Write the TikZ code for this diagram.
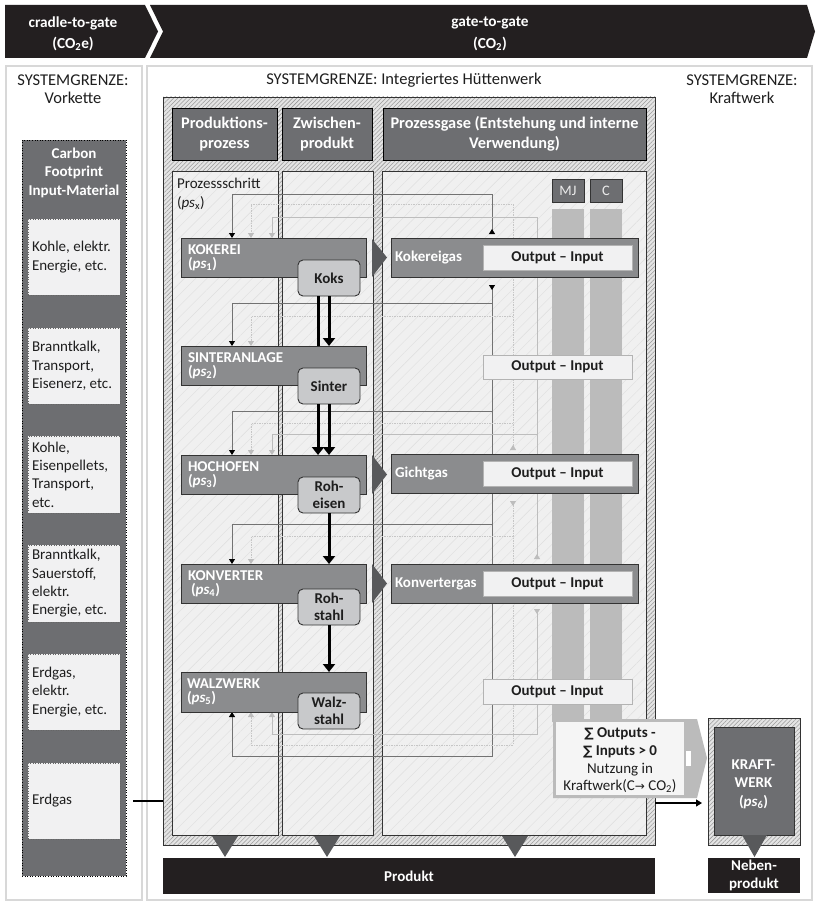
\documentclass[tikz,border=0pt]{standalone}
\usepackage{fontspec}
\setmainfont{Carlito}
\newfontfamily\dejavu{DejaVu Sans}
\usetikzlibrary{patterns.meta,arrows.meta}
\definecolor{bannerC}{HTML}{231F20}
\definecolor{sysC}{HTML}{D8D8D8}
\definecolor{hdrC}{HTML}{6D6E71}
\definecolor{procC}{HTML}{8B8C8E}
\definecolor{subC}{HTML}{C8C9CB}
\definecolor{triC}{HTML}{58595B}
\definecolor{colC}{HTML}{F0F0F0}
\definecolor{colL}{HTML}{DEDEDE}
\definecolor{frmC}{HTML}{E4E4E4}
\definecolor{frmL}{HTML}{9A9A9A}
\definecolor{oiC}{HTML}{F1F1F2}
\definecolor{oiL}{HTML}{B3B3B3}
\definecolor{stripC}{HTML}{B9B9B9}
\definecolor{stripL}{HTML}{D2D2D2}
\definecolor{kC}{HTML}{727272}
\definecolor{lC}{HTML}{BDBDBD}
\definecolor{gC}{HTML}{C6C6C6}
\definecolor{txtC}{HTML}{1E1E1E}
\definecolor{edgeC}{HTML}{333333}
\newcommand\rbox[6]{\node[#2,anchor=north west,minimum width={(#5)-(#3)},minimum height={(#6)-(#4)}] (#1) at (#3,#4) {};}
\newcommand\sumsym{{\dejavu\fontsize{13}{13}\selectfont ∑}}
\tikzset{
  every node/.style={inner sep=0pt, outer sep=0pt, text=txtC, font=\fontsize{15}{18}\selectfont},
  bann/.style={text=white, font=\bfseries\fontsize{15.3}{18}\selectfont},
  sysbox/.style={draw=sysC, line width=1.3pt, fill=white},
  systxt/.style={font=\fontsize{16.5}{18}\selectfont},
  frame/.style={draw=edgeC, line width=0.8pt, preaction={fill=frmC}, pattern={Lines[angle=45,distance=3pt,line width=0.55pt]}, pattern color=frmL},
  hdr/.style={draw=black, line width=0.8pt, fill=hdrC},
  hdrtxt/.style={text=white, align=center, font=\bfseries\fontsize{16.3}{20.5}\selectfont},
  colbox/.style={draw=edgeC, line width=0.7pt, preaction={fill=colC}, pattern={Lines[angle=45,distance=8pt,line width=0.4pt]}, pattern color=colL},
  proc/.style={draw=edgeC, line width=0.9pt, fill=procC},
  plbl/.style={anchor=base west, text=white, font=\bfseries\fontsize{15}{12}\selectfont},
  subbox/.style={draw=edgeC, line width=0.9pt, fill=subC, rounded corners=5pt},
  subtxt/.style={align=center, font=\bfseries\fontsize{15}{17}\selectfont},
  oibox/.style={draw=oiL, line width=0.8pt, fill=oiC},
  oitxt/.style={font=\bfseries\fontsize{15}{18}\selectfont},
  gastxt/.style={anchor=west, text=white, font=\bfseries\fontsize{15}{18}\selectfont},
  tri/.style={fill=triC},
  strip/.style={preaction={fill=stripC}, pattern={Dots[distance=2pt,radius=0.45pt]}, pattern color=stripL},
  mjbox/.style={draw=edgeC, line width=0.7pt, fill=hdrC},
  darkbox/.style={fill=bannerC},
  whitebold/.style={text=white, align=center, font=\bfseries\fontsize{15}{18.5}\selectfont},
  cfbox/.style={fill=hdrC, draw=black, line width=0.6pt, dotted},
  lbox/.style={fill=oiC, draw=black!60, line width=0.5pt, dotted},
  ltxt/.style={anchor=west, align=left, font=\fontsize{15}{18.3}\selectfont},
  kline/.style={draw=kC, line width=0.8pt},
  lline/.style={draw=lC, line width=0.8pt},
  gline/.style={draw=gC, line width=0.8pt, dash pattern=on 1.5pt off 1pt},
  thk/.style={draw=black, line width=3pt},
  thka/.style={thk, -{Triangle[width=12pt,length=8pt]}},
}
\begin{document}
\begin{tikzpicture}[x=1pt,y=-1pt]
\useasboundingbox (0,0) rectangle (815,904);
\fill[white] (0,0) rectangle (815,904);

% ---------- banner ----------
\fill[bannerC] (5,5) -- (145,5) -- (158,31.5) -- (145,58) -- (5,58) -- cycle;
\fill[bannerC] (150,5) -- (807,5) -- (815,31.5) -- (807,58) -- (150,58) -- (163,31.5) -- cycle;
\node[bann] (b1) at (73,23) {cradle-to-gate};
\node[bann] (b2) at (73,44) {(CO\textsubscript{2}e)};
\node[bann] (b3) at (490,23) {gate-to-gate};
\node[bann] (b4) at (490,44) {(CO\textsubscript{2})};

% ---------- system boundaries ----------
\draw[sysbox] (6,66) rectangle (142,900);
\draw[sysbox] (147,66) rectangle (812,900);
\node[systxt] (s1) at (73,80) {SYSTEMGRENZE:};
\node[systxt] (s2) at (73,98) {Vorkette};
\node[systxt] (s3) at (404,80) {SYSTEMGRENZE: Integriertes Hüttenwerk};
\node[systxt] (s4) at (742,80) {SYSTEMGRENZE:};
\node[systxt] (s5) at (742,98) {Kraftwerk};

% ---------- main frame, headers, columns ----------
\rbox{frame}{frame}{163}{97}{655}{845}
\rbox{h1}{hdr}{172}{108}{277}{160}
\rbox{h2}{hdr}{282}{108}{372}{160}
\rbox{h3}{hdr}{383}{108}{646}{160}
\node[hdrtxt] at (h1) {Produktions-\\prozess};
\node[hdrtxt] at (h2) {Zwischen-\\produkt};
\node[hdrtxt] at (h3) {Prozessgase (Entstehung und interne\\Verwendung)};
\rbox{c1}{colbox}{172}{171}{278}{835}
\rbox{c2}{colbox}{282}{171}{373}{835}
\rbox{c3}{colbox}{382}{171}{646}{835}
\node[anchor=west] (psx1) at (177,183) {Prozessschritt};
\node[anchor=west] (psx2) at (177,203) {(\textit{ps}\textsubscript{x})};

% ---------- MJ / C ----------
\rbox{mj}{mjbox}{552}{179}{584}{202}
\rbox{cc}{mjbox}{590}{179}{622}{202}
\node[text=white!92!black, font=\fontsize{14.5}{16}\selectfont] at (mj) {MJ};
\node[text=white!92!black, font=\fontsize{14.5}{16}\selectfont] at (cc) {C};
\rbox{smj}{strip}{552}{209}{584}{722}
\rbox{sc}{strip}{590}{209}{622}{722}

% ---------- gas distribution lines ----------
% Kokereigas
\draw[kline, {Triangle[reversed,width=6pt,length=5pt,color=black]}-{Triangle[width=6pt,length=5pt,color=black]}] (492,234) -- (492,194) -- (232,194) -- (232,238);
\draw[kline, {Triangle[reversed,width=6pt,length=5pt,color=black]}-{Triangle[width=6pt,length=5pt,color=black]}] (492,285) -- (492,756) -- (232,756) -- (232,712);
\draw[kline, -{Triangle[width=6pt,length=5pt,color=black]}] (492,303) -- (232,303) -- (232,346);
\draw[kline, -{Triangle[width=6pt,length=5pt,color=black]}] (492,411) -- (232,411) -- (232,455);
\draw[kline, -{Triangle[width=6pt,length=5pt,color=black]}] (492,524) -- (232,524) -- (232,564);
% Gichtgas
\draw[gline, {Triangle[reversed,width=6pt,length=5pt,color=lC,sharp]}-{Triangle[width=6pt,length=5pt,color=lC]}] (513,450) -- (513,204) -- (251,204) -- (251,238);
\draw[gline, -{Triangle[width=6pt,length=5pt,color=lC]}] (513,316) -- (251,316) -- (251,346);
\draw[gline, -{Triangle[width=6pt,length=5pt,color=lC]}] (513,423) -- (251,423) -- (251,455);
\draw[gline, {Triangle[reversed,width=6pt,length=5pt,color=lC]}-{Triangle[width=6pt,length=5pt,color=lC]}] (513,501) -- (513,745) -- (251,745) -- (251,712);
\draw[gline, -{Triangle[width=6pt,length=5pt,color=lC]}] (513,536) -- (251,536) -- (251,564);
% Konvertergas
\draw[lline, {Triangle[reversed,width=6pt,length=5pt,color=lC]}-{Triangle[width=6pt,length=5pt,color=lC]}] (537,559) -- (537,217) -- (272,217) -- (272,238);
\draw[lline, -{Triangle[width=6pt,length=5pt,color=lC]}] (537,434) -- (272,434) -- (272,455);
\draw[lline, {Triangle[reversed,width=6pt,length=5pt,color=lC]}-{Triangle[width=6pt,length=5pt,color=lC]}] (537,609) -- (537,734) -- (272,734) -- (272,712);

% ---------- process steps ----------
\rbox{p1}{proc}{181}{238}{366}{277}
\rbox{p2}{proc}{181}{346}{366}{385}
\rbox{p3}{proc}{181}{455}{366}{494}
\rbox{p4}{proc}{181}{564}{366}{603}
\rbox{p5}{proc}{181}{672}{366}{712}
\node[plbl] at (188,254) {KOKEREI};
\node[plbl] at (188,268.5) {(\textit{ps}\textsubscript{1})};
\node[plbl] at (188,362) {SINTERANLAGE};
\node[plbl] at (188,376.5) {(\textit{ps}\textsubscript{2})};
\node[plbl] at (188,471) {HOCHOFEN};
\node[plbl] at (188,485.5) {(\textit{ps}\textsubscript{3})};
\node[plbl] at (188,580) {KONVERTER};
\node[plbl] at (191,594.5) {(\textit{ps}\textsubscript{4})};
\node[plbl] at (187,688) {WALZWERK};
\node[plbl] at (187,702.5) {(\textit{ps}\textsubscript{5})};
\fill[tri] (372,239) -- (387,257.5) -- (372,277) -- cycle;
\fill[tri] (372,455) -- (387,474.5) -- (372,494) -- cycle;
\fill[tri] (372,564) -- (387,583.5) -- (372,603) -- cycle;

% intermediate products
\rbox{koks}{subbox}{298}{260}{360}{296}
\rbox{sinter}{subbox}{298}{368}{360}{404}
\rbox{rohe}{subbox}{298}{477}{360}{513}
\rbox{rohs}{subbox}{298}{589}{360}{625}
\rbox{walz}{subbox}{298}{693}{360}{729}
\node[subtxt] at (koks) {Koks};
\node[subtxt] at (sinter) {Sinter};
\node[subtxt] at (rohe) {Roh-\\eisen};
\node[subtxt] at (rohs) {Roh-\\stahl};
\node[subtxt] at (walz) {Walz-\\stahl};

% material flow arrows
\draw[thk] ([xshift=-11pt]koks.south) -- ([xshift=-11pt]koks.south |- p2.north);
\draw[thka] (koks.south) -- (koks.south |- p2.north);
\draw[thka] ([xshift=-11pt]sinter.south) -- ([xshift=-11pt]sinter.south |- p3.north);
\draw[thka] (sinter.south) -- (sinter.south |- p3.north);
\draw[thka] (rohe.south) -- (rohe.south |- p4.north);
\draw[thka] (rohs.south) -- (rohs.south |- p5.north);

% ---------- process gases ----------
\rbox{g1}{proc}{391}{238}{638}{277}
\rbox{g3}{proc}{391}{454}{638}{493}
\rbox{g4}{proc}{391}{564}{638}{603}
\node[gastxt] at (395,257.5) {Kokereigas};
\node[gastxt] at (395,473.5) {Gichtgas};
\node[gastxt] at (395,583.5) {Konvertergas};
\rbox{oi1}{oibox}{483}{245}{632}{270}
\rbox{oi2}{oibox}{483}{355}{632}{379}
\rbox{oi3}{oibox}{483}{461}{632}{486}
\rbox{oi4}{oibox}{483}{571}{632}{596}
\rbox{oi5}{oibox}{483}{679}{632}{704}
\foreach \n in {oi1,oi2,oi3,oi4,oi5}{\node[oitxt] at (\n) {Output – Input};}

% ---------- sum box ----------
\path[strip] (553,719) -- (697,719) -- (707,758) -- (697,798) -- (553,798) -- cycle;
\rbox{sumbox}{fill=white!96!black}{556}{722}{684}{795}
\fill[white] (686,751) rectangle (691,766);
\node[align=center, font=\fontsize{15}{17.6}\selectfont] at (620,760.5)
  {{\bfseries\sumsym{} Outputs -}\\{\bfseries\sumsym{} Inputs > 0}\\Nutzung in\\Kraftwerk(C{\dejavu\fontsize{12}{12}\selectfont →} CO\textsubscript{2})};

% ---------- power plant ----------
\rbox{kwo}{frame}{708}{718}{800}{845}
\rbox{kw}{fill=hdrC, draw=edgeC, line width=0.8pt}{714}{727}{794}{835}
\node[whitebold] at (753.5,784) {KRAFT-\\WERK\\(\textit{ps}\textsubscript{6})};
\coordinate (arrS) at (655,803);
\draw[line width=1.3pt, -{Triangle[width=7pt,length=6pt]}, shorten >=6pt] (arrS) -- (arrS -| kwo.west);
\fill[tri] (742,835) -- (767,835) -- (754.5,857) -- cycle;
\rbox{neb}{darkbox}{708}{858}{800}{893}
\node[whitebold] at (neb) {Neben-\\produkt};

% ---------- product ----------
\fill[tri] (212,836) -- (238,836) -- (225,857) -- cycle;
\fill[tri] (314,836) -- (340,836) -- (327,857) -- cycle;
\fill[tri] (502,836) -- (528,836) -- (515,857) -- cycle;
\rbox{prod}{darkbox}{163}{858}{655}{894}
\node[whitebold] at (prod) {Produkt};

% ---------- carbon footprint column ----------
\rbox{cf}{cfbox}{22}{140}{126}{876}
\node[whitebold] at (74,172.5) {Carbon\\Footprint\\Input-Material};
\rbox{lb1}{lbox}{28}{219}{120}{295}
\rbox{lb2}{lbox}{28}{328}{120}{404}
\rbox{lb3}{lbox}{28}{436}{120}{513}
\rbox{lb4}{lbox}{28}{545}{120}{622}
\rbox{lb5}{lbox}{28}{654}{120}{730}
\rbox{lb6}{lbox}{28}{763}{120}{839}
\node[ltxt] at ([xshift=4pt]lb1.west) {Kohle, elektr.\\Energie, etc.};
\node[ltxt] at ([xshift=4pt]lb2.west) {Branntkalk,\\Transport,\\Eisenerz, etc.};
\node[ltxt] at ([xshift=4pt]lb3.west) {Kohle,\\Eisenpellets,\\Transport,\\etc.};
\node[ltxt] at ([xshift=4pt]lb4.west) {Branntkalk,\\Sauerstoff,\\elektr.\\Energie, etc.};
\node[ltxt] at ([xshift=4pt]lb5.west) {Erdgas,\\elektr.\\Energie, etc.};
\node[ltxt] at ([xshift=4pt]lb6.west) {Erdgas};
\coordinate (cfo) at (133,801);
\coordinate (cfi) at (163,801);
\draw[line width=1.2pt] (cfo) -- (cfi);
\end{tikzpicture}
\end{document}
